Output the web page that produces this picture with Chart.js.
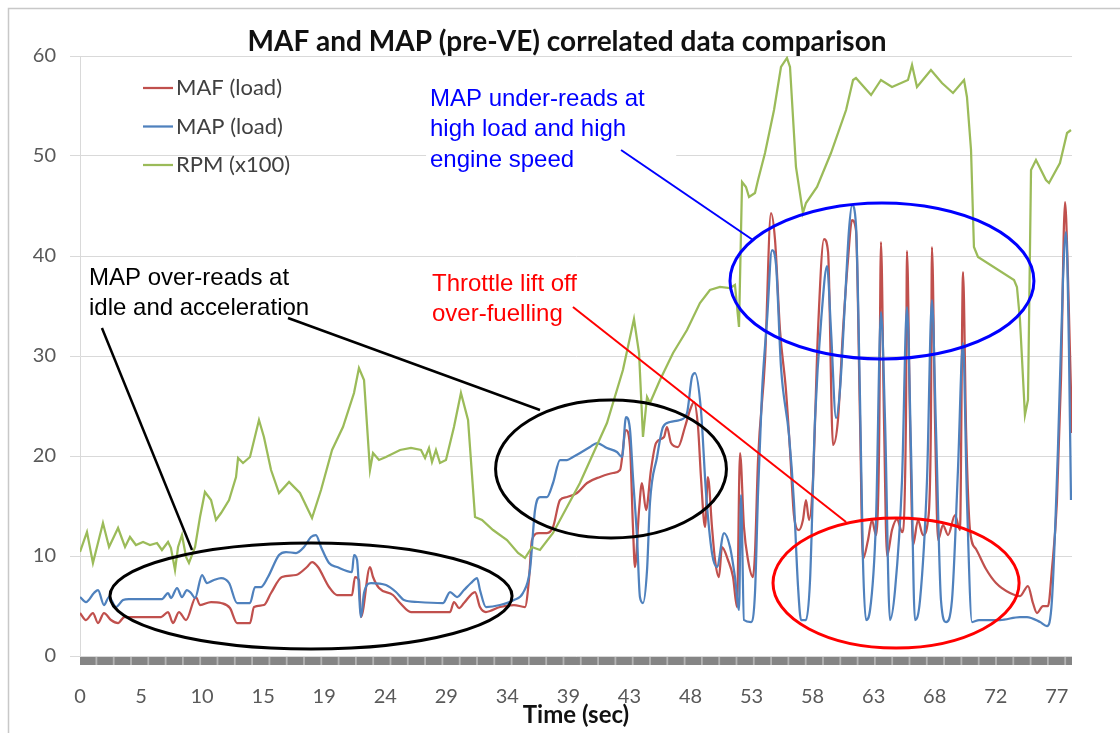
<!DOCTYPE html>
<html>
<head>
<meta charset="utf-8">
<title>MAF and MAP (pre-VE) correlated data comparison</title>
<script src="https://cdn.jsdelivr.net/npm/chart.js@4.4.0/dist/chart.umd.min.js"></script>
<style>
  html, body { margin: 0; padding: 0; background: #fff; }
  #wrap { width: 1120px; height: 733px; }
</style>
</head>
<body>
<div id="wrap"><canvas id="chart" width="1120" height="733"></canvas></div>
<script>
// category labels of the logged time column, one every 4.8125 s
const tickLabels = ["0", "5", "10", "15", "19", "24", "29", "34", "39", "43", "48", "53", "58", "63", "68", "72", "77"];
const secPerLabel = 4.8125;
const timeMax = 78.2;

// MAF (load)
const mafTime = [
  0, 0.47, 1.02, 1.42, 1.89, 2.44, 3.00, 3.50, 6.39, 6.94,
  7.33, 7.80, 8.36, 9.14, 9.46, 10.33, 11.12, 11.82, 12.38, 13.40,
  13.72, 14.50, 15.06, 15.92, 17.03, 17.89, 18.29, 18.76, 19.63, 20.26,
  21.44, 21.68, 21.99, 22.15, 22.86, 23.10, 23.57, 24.67, 25.23, 26.09,
  29.17, 29.48, 29.88, 30.27, 31.14, 31.53, 32.00, 33.11, 34.21, 35.08,
  35.39, 35.63, 36.18, 36.81, 37.29, 37.84, 38.39, 39.18, 39.97, 40.99,
  42.02, 42.57, 43.04, 43.36, 43.59, 43.75, 44.07, 44.30, 44.62, 45.01,
  45.41, 46.04, 46.27, 46.59, 47.14, 47.69, 48.09, 48.40, 48.72, 48.95,
  49.27, 49.50, 49.82, 50.06, 50.37, 50.61, 51.08, 51.48, 51.79, 52.03,
  52.34, 52.66, 53.05, 53.21, 53.45, 54.00, 54.47, 54.79, 55.18, 55.65,
  55.97, 56.28, 56.68, 56.99, 57.23, 57.47, 57.78, 58.18, 58.65, 58.97,
  59.36, 59.75, 60.15, 60.54, 60.86, 61.17, 61.49, 61.72, 62.12, 62.43,
  62.75, 62.99, 63.14, 63.38, 63.62, 64.01, 64.41, 64.80, 65.11, 65.19,
  65.43, 65.67, 66.06, 66.45, 66.85, 67.08, 67.16, 67.40, 67.64, 68.03,
  68.43, 68.98, 69.37, 69.61, 69.85, 70.16, 70.63, 71.42, 72.21, 73.31,
  74.10, 74.73, 75.12, 75.44, 75.91, 76.31, 76.62, 77.01, 77.33, 77.65,
  77.89, 78.20
];
const mafLoad = [
  4.3, 3.6, 4.3, 3.3, 4.3, 3.6, 3.3, 3.9, 3.9, 4.4,
  3.3, 4.4, 3.6, 5.9, 5.1, 5.4, 5.3, 4.8, 3.3, 3.3,
  4.9, 5.1, 6.3, 7.9, 8.1, 8.9, 9.4, 8.9, 6.9, 6.1,
  6.1, 7.9, 7.6, 3.9, 8.9, 7.9, 6.8, 6.1, 5.3, 4.4,
  4.4, 5.4, 4.8, 5.3, 6.4, 4.9, 4.4, 4.9, 5.1, 4.9,
  7.6, 11.6, 12.3, 12.3, 12.9, 15.6, 15.9, 16.3, 17.3, 17.9,
  18.3, 18.6, 22.6, 20.9, 12.9, 8.9, 14.6, 17.3, 14.6, 18.6,
  21.3, 21.9, 22.9, 21.3, 20.9, 22.9, 24.6, 25.4, 22.9, 17.9,
  12.9, 17.9, 12.9, 9.6, 7.9, 10.9, 9.6, 7.9, 4.9, 20.3,
  12.9, 9.6, 7.9, 10.3, 19.6, 29.6, 44.3, 41.6, 32.6, 26.6,
  20.6, 14.1, 12.6, 13.6, 15.6, 13.6, 17.6, 32.6, 41.7, 40.4,
  21.1, 23.6, 32.6, 39.6, 43.6, 42.6, 23.6, 9.7, 11.6, 13.6,
  12.1, 20.6, 41.4, 23.6, 10.0, 12.6, 13.7, 12.4, 23.6, 40.5,
  23.6, 11.1, 13.6, 12.1, 13.6, 23.6, 40.9, 23.6, 11.6, 13.1,
  12.1, 14.1, 12.6, 38.4, 22.6, 12.6, 10.7, 8.7, 7.3, 6.3,
  6.0, 7.0, 5.3, 4.3, 5.0, 5.0, 8.7, 15.4, 27.6, 45.4,
  37.6, 22.3
];

// MAP (load)
const mapTime = [
  0, 0.47, 1.10, 1.42, 1.89, 2.29, 2.84, 3.39, 3.86, 6.46,
  6.94, 7.17, 7.65, 8.04, 8.43, 8.75, 9.07, 9.62, 10.01, 10.56,
  11.12, 11.75, 12.38, 13.40, 13.80, 14.27, 14.82, 15.69, 16.24, 17.03,
  17.66, 18.21, 18.60, 19.00, 19.63, 20.26, 21.44, 21.60, 21.84, 22.15,
  22.39, 22.94, 24.12, 24.91, 25.54, 26.64, 28.62, 29.17, 29.72, 30.27,
  30.82, 31.30, 31.53, 32.00, 33.11, 34.21, 34.92, 35.47, 35.87, 36.26,
  36.81, 37.29, 37.84, 38.39, 38.86, 39.42, 40.20, 40.76, 41.54, 42.33,
  42.73, 43.04, 43.36, 43.59, 43.91, 44.14, 44.38, 44.70, 44.93, 45.49,
  45.96, 46.51, 47.30, 47.85, 48.24, 48.48, 48.95, 49.35, 49.82, 50.21,
  50.77, 51.24, 51.63, 51.95, 52.11, 52.34, 52.90, 53.21, 53.45, 53.76,
  54.16, 54.55, 54.87, 55.26, 55.89, 56.28, 56.60, 56.84, 57.23, 57.55,
  57.94, 58.49, 58.89, 59.20, 59.60, 59.91, 60.31, 60.62, 60.86, 61.17,
  61.49, 61.72, 61.96, 62.28, 62.75, 63.14, 63.46, 63.85, 64.25, 64.80,
  65.19, 65.51, 65.82, 66.22, 66.77, 67.16, 67.48, 67.87, 68.27, 68.74,
  69.21, 69.61, 69.92, 70.32, 70.87, 72.52, 74.10, 74.65, 75.68, 76.23,
  76.62, 77.09, 77.49, 77.73, 77.96, 78.12
];
const mapLoad = [
  5.9, 5.4, 6.3, 6.6, 5.1, 5.9, 4.9, 5.6, 5.7, 5.7,
  6.3, 5.8, 6.8, 5.9, 6.6, 6.3, 5.8, 8.1, 7.3, 7.6,
  7.8, 7.3, 5.3, 5.3, 6.9, 6.9, 7.9, 10.1, 10.4, 10.3,
  10.9, 11.9, 12.1, 10.9, 9.3, 8.9, 8.4, 10.1, 9.6, 3.9,
  6.3, 7.3, 7.1, 6.4, 5.6, 5.4, 5.3, 6.4, 5.9, 6.6,
  7.3, 7.8, 6.6, 4.9, 5.1, 5.6, 6.3, 8.6, 14.6, 15.9,
  15.9, 17.3, 19.6, 19.6, 19.9, 20.3, 20.9, 21.3, 20.8, 20.4,
  19.9, 23.9, 22.6, 17.9, 11.9, 5.9, 5.3, 8.6, 15.3, 19.9,
  22.9, 23.4, 23.6, 24.3, 27.9, 28.3, 24.6, 16.3, 10.3, 8.9,
  12.3, 10.9, 7.9, 4.6, 16.1, 3.6, 3.4, 6.3, 16.3, 26.3,
  33.6, 40.6, 39.1, 28.9, 22.1, 15.4, 7.0, 3.6, 3.6, 7.6,
  23.6, 34.6, 39.0, 32.6, 23.8, 26.6, 35.6, 42.6, 45.1, 43.1,
  25.6, 9.6, 3.6, 4.6, 13.6, 34.4, 23.6, 3.6, 6.6, 17.6,
  34.9, 20.6, 3.6, 5.6, 17.6, 35.6, 22.6, 5.6, 3.4, 5.6,
  18.6, 31.3, 15.6, 3.4, 3.6, 3.6, 3.9, 3.9, 3.4, 3.0,
  5.6, 20.6, 37.6, 42.4, 30.6, 15.6
];

// RPM (x100)
const rpmTime = [
  0, 0.55, 1.02, 1.81, 2.29, 3.0, 3.55, 3.94, 4.41, 4.97,
  5.52, 6.07, 6.46, 6.94, 7.17, 7.49, 7.73, 8.04, 8.36, 8.59,
  9.07, 9.46, 9.85, 10.33, 10.72, 11.12, 11.75, 12.3, 12.46, 12.85,
  13.4, 14.11, 14.5, 15.06, 15.69, 16.48, 17.34, 18.29, 19.0, 19.87,
  20.73, 21.6, 21.99, 22.39, 22.86, 23.1, 23.57, 24.12, 25.23, 26.09,
  26.88, 27.2, 27.51, 27.75, 28.06, 28.38, 28.85, 29.48, 30.03, 30.59,
  31.14, 31.69, 32.56, 33.66, 34.53, 35.08, 35.63, 36.26, 37.29, 39.41,
  41.54, 42.8, 43.67, 44.07, 44.38, 44.7, 44.93, 45.72, 46.75, 47.85,
  48.87, 49.66, 50.45, 51.24, 51.63, 51.95, 52.19, 52.5, 52.74, 53.21,
  53.45, 54.0, 54.71, 55.26, 55.73, 55.97, 56.44, 56.99, 57.23, 58.1,
  59.2, 60.39, 60.94, 61.17, 61.8, 62.36, 63.14, 64.01, 65.27, 65.59,
  65.98, 67.08, 67.95, 68.82, 69.69, 69.92, 70.24, 70.47, 70.79, 73.63,
  73.86, 74.1, 74.49, 74.73, 74.97, 75.36, 76.15, 76.39, 77.25, 77.81,
  78.12
];
const rpmX100 = [
  10.4, 12.4, 9.3, 13.3, 10.9, 12.8, 10.9, 11.9, 11.1, 11.4,
  11.1, 11.3, 10.6, 11.4, 10.8, 8.6, 10.9, 12.1, 9.9, 9.3,
  10.9, 13.9, 16.4, 15.6, 13.6, 14.3, 15.6, 17.9, 19.8, 19.3,
  19.9, 23.6, 21.9, 18.6, 16.3, 17.4, 16.3, 13.8, 16.6, 20.6,
  22.9, 26.3, 28.8, 27.6, 18.6, 20.3, 19.6, 19.9, 20.6, 20.8,
  20.6, 19.8, 20.8, 19.4, 20.6, 19.3, 19.6, 22.9, 26.3, 23.6,
  13.9, 13.6, 12.6, 11.6, 10.3, 9.8, 10.9, 10.6, 12.3, 17.3,
  23.3, 28.6, 33.7, 30.3, 21.9, 25.9, 25.3, 27.6, 30.3, 32.6,
  35.3, 36.6, 36.9, 36.8, 37.1, 32.9, 47.4, 46.9, 45.9, 46.3,
  47.6, 50.3, 54.6, 58.9, 59.8, 58.9, 48.9, 44.3, 45.3, 46.9,
  50.3, 54.6, 57.6, 57.8, 56.9, 56.1, 57.6, 56.9, 57.6, 59.1,
  56.9, 58.6, 57.3, 56.3, 57.6, 55.9, 50.6, 40.9, 39.9, 37.6,
  36.9, 33.6, 24.1, 25.6, 48.6, 49.6, 47.6, 47.3, 49.3, 52.3,
  52.6
];

// hand drawn notes, placed in axis units: [time, value] and radii [sec, value]
const callouts = [
  {
    color: "#000000",
    lines: ["MAP over-reads at", "idle and acceleration"],
    at: [0.71, 37.8],
    ellipses: [[18.21, 6.0, 15.85, 5.3], [41.86, 18.7, 9.1, 6.9]],
    leaders: [[1.73, 32.8, 8.83, 10.6], [16.4, 33.8, 36.26, 24.6]],
    leaderWidth: 2.5
  },
  {
    color: "#0000ff",
    lines: ["MAP under-reads at", "high load and high", "engine speed"],
    at: [27.59, 55.7],
    box: [27.28, 57.8, 47.0, 47.8],
    ellipses: [[63.22, 37.5, 11.98, 7.8]],
    leaders: [[42.65, 50.6, 53.05, 41.6]],
    leaderWidth: 2
  },
  {
    color: "#ff0000",
    lines: ["Throttle lift off", "over-fuelling"],
    at: [27.75, 37.2],
    ellipses: [[64.33, 7.3, 9.7, 6.5]],
    leaders: [[38.86, 34.9, 60.39, 13.4]],
    leaderWidth: 2
  }
];

const toPoints = (ts, vs) => ts.map((t, i) => ({ x: t, y: vs[i] }));

const frame = {
  id: "frame",
  beforeDraw(chart) {
    const { ctx } = chart;
    ctx.save();
    ctx.fillStyle = "#ffffff";
    ctx.fillRect(0, 0, chart.width, chart.height);
    ctx.strokeStyle = "#c8c8c8";
    ctx.lineWidth = 1.5;
    ctx.strokeRect(8.5, 8.5, chart.width + 20, chart.height + 20);
    ctx.restore();
  },
  afterDatasetsDraw(chart) {
    const { ctx, chartArea: a } = chart;
    ctx.save();

    // tick band along the time axis
    ctx.fillStyle = "#b4b4b4";
    ctx.fillRect(a.left, a.bottom + 1, a.right - a.left, 8);
    ctx.strokeStyle = "#858585";
    ctx.lineWidth = 8;
    ctx.setLineDash([15.5, 1.8]);
    ctx.beginPath();
    ctx.moveTo(a.left, a.bottom + 5);
    ctx.lineTo(a.right, a.bottom + 5);
    ctx.stroke();
    ctx.setLineDash([]);

    // title
    ctx.fillStyle = "#111111";
    ctx.font = "bold 28px Lato";
    ctx.textAlign = "center";
    ctx.textBaseline = "middle";
    ctx.fillText("MAF and MAP (pre-VE) correlated data comparison", 567, 42);

    // legend inside the plot
    ctx.textAlign = "left";
    ctx.font = "22px Lato";
    chart.data.datasets.forEach((ds, i) => {
      const y = a.top + 32 + i * 38.5;
      ctx.strokeStyle = ds.borderColor;
      ctx.lineWidth = 2.25;
      ctx.beginPath();
      ctx.moveTo(a.left + 63, y);
      ctx.lineTo(a.left + 93, y);
      ctx.stroke();
      ctx.fillStyle = "#404040";
      ctx.fillText(ds.label, a.left + 96, y);
    });
    ctx.restore();
  }
};

const notes = {
  id: "notes",
  afterDatasetsDraw(chart) {
    const { ctx } = chart;
    const sx = chart.scales.x, sy = chart.scales.y;
    const px = t => sx.getPixelForValue(t);
    const py = v => sy.getPixelForValue(v);
    ctx.save();
    callouts.forEach(c => {
      if (c.box) {
        const [t0, v0, t1, v1] = c.box;
        ctx.fillStyle = "#ffffff";
        ctx.fillRect(px(t0), py(v0), px(t1) - px(t0), py(v1) - py(v0));
      }
      ctx.strokeStyle = c.color;
      ctx.lineWidth = c.leaderWidth;
      c.leaders.forEach(([t0, v0, t1, v1]) => {
        ctx.beginPath();
        ctx.moveTo(px(t0), py(v0));
        ctx.lineTo(px(t1), py(v1));
        ctx.stroke();
      });
      ctx.lineWidth = 3;
      c.ellipses.forEach(([t, v, rt, rv]) => {
        ctx.beginPath();
        ctx.ellipse(px(t), py(v), px(t + rt) - px(t), py(v - rv) - py(v), 0, 0, Math.PI * 2);
        ctx.stroke();
      });
      ctx.fillStyle = c.color;
      ctx.font = "24px 'Liberation Sans', Arial, sans-serif";
      ctx.textAlign = "left";
      ctx.textBaseline = "middle";
      c.lines.forEach((line, i) => {
        ctx.fillText(line, px(c.at[0]), py(c.at[1]) + i * 30.5);
      });
    });
    ctx.restore();
  }
};

const tickFont = { family: "Lato", size: 20 };

new Chart(document.getElementById("chart"), {
  type: "line",
  data: {
    datasets: [
      { label: "MAF (load)", data: toPoints(mafTime, mafLoad), borderColor: "#C0504D", cubicInterpolationMode: "monotone", order: 3 },
      { label: "MAP (load)", data: toPoints(mapTime, mapLoad), borderColor: "#4F81BD", cubicInterpolationMode: "monotone", order: 2 },
      { label: "RPM (x100)", data: toPoints(rpmTime, rpmX100), borderColor: "#9BBB59", order: 1 }
    ]
  },
  options: {
    responsive: false,
    animation: false,
    layout: { padding: { top: 56, right: 48, bottom: 0, left: 0 } },
    elements: {
      point: { radius: 0 },
      line: { borderWidth: 2.25, fill: false }
    },
    plugins: {
      legend: { display: false },
      title: { display: false },
      tooltip: { enabled: false }
    },
    scales: {
      x: {
        type: "linear",
        min: 0,
        max: timeMax,
        afterBuildTicks: s => { s.ticks = tickLabels.map((_, k) => ({ value: k * secPerLabel })); },
        afterFit: s => { s.height = 77; },
        grid: { display: false, drawTicks: false },
        border: { display: false },
        ticks: {
          autoSkip: false,
          maxRotation: 0,
          padding: 29,
          color: "#595959",
          font: tickFont,
          callback: (v, i) => tickLabels[i]
        },
        title: {
          display: true,
          text: "Time (sec)",
          color: "#111111",
          font: { family: "Lato", size: 24, weight: "bold" },
          padding: { top: 0, bottom: 3 }
        }
      },
      y: {
        min: 0,
        max: 60,
        afterFit: s => { s.width = 80; },
        grid: { color: "#d9d9d9", lineWidth: 1, tickLength: 10 },
        border: { color: "#d9d9d9" },
        ticks: { stepSize: 10, padding: 14, color: "#595959", font: tickFont }
      }
    }
  },
  plugins: [frame, notes]
});
</script>
</body>
</html>
